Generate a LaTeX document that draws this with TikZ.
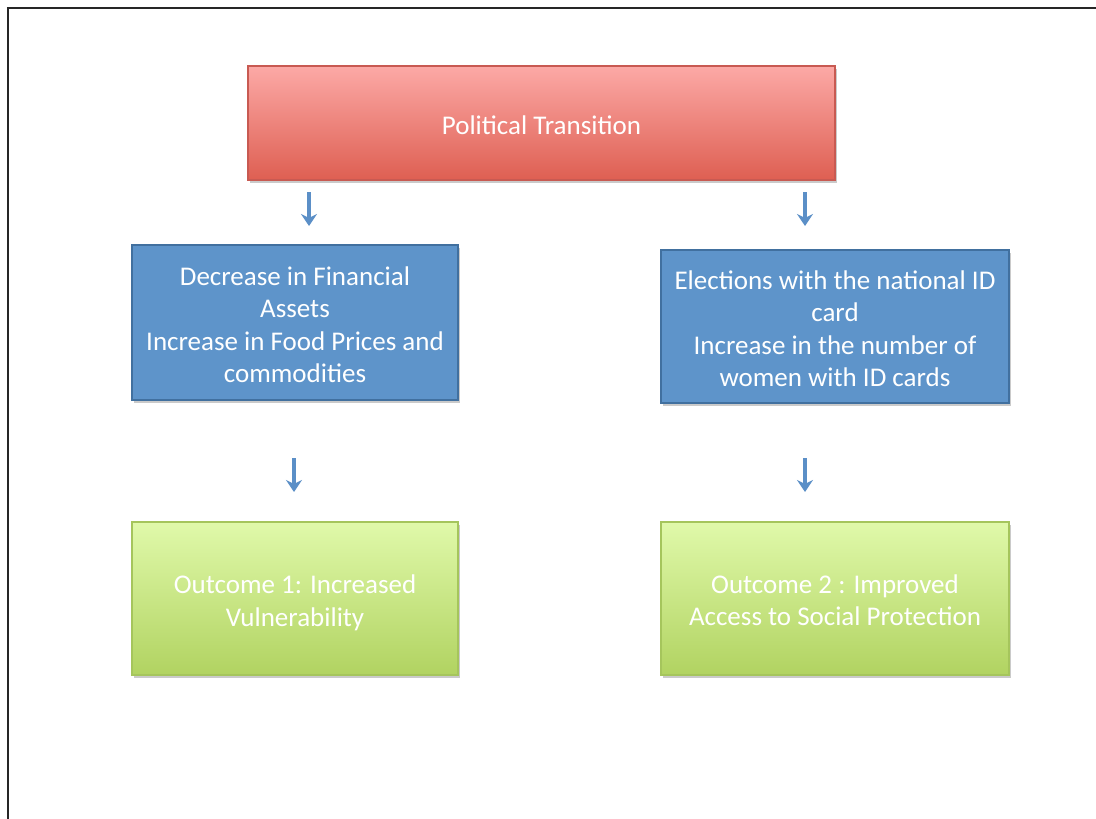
\documentclass[tikz,border=0pt]{standalone}
\usepackage{fontspec}
\setmainfont{Carlito}
\usetikzlibrary{shadows,arrows.meta}
\definecolor{redtop}{HTML}{FCA9A6}
\definecolor{redbot}{HTML}{DE5F52}
\definecolor{redline}{HTML}{C85A52}
\definecolor{bluefill}{HTML}{5E94CA}
\definecolor{blueline}{HTML}{41709F}
\definecolor{greentop}{HTML}{E0F9AA}
\definecolor{greenbot}{HTML}{B1D361}
\definecolor{greenline}{HTML}{A5C55C}
\definecolor{arrowblue}{HTML}{5B8FC7}
\tikzset{
  boxbase/.style={rectangle, line width=1.5pt,
    drop shadow={opacity=0.35, shadow xshift=1.5pt, shadow yshift=-2.5pt, fill=black!60}},
  txt/.style={align=center, text=white, font=\fontsize{27}{32.5}\selectfont},
  redbox/.style={boxbase, draw=redline, top color=redtop, bottom color=redbot},
  bluebox/.style={boxbase, draw=blueline, fill=bluefill},
  greenbox/.style={boxbase, draw=greenline, top color=greentop, bottom color=greenbot},
  arr/.style={draw=arrowblue, line width=3.5pt, -{Stealth[length=12pt,width=16pt,inset=4pt]}}
}
\begin{document}
\begin{tikzpicture}[x=1pt,y=-1pt]
\useasboundingbox (0,0) rectangle (1096,819);
\draw[line width=2.5pt, black!85] (8,819) -- (8,8);
\draw[line width=2.5pt, black!85] (6.75,8) -- (1096,8);
\node[redbox, minimum width=587pt, minimum height=114pt] (red) at (541.5,123) {};
\node[txt] (redtxt) at ([yshift=-2pt]red.center) {Political Transition};
\node[bluebox, minimum width=326pt, minimum height=155pt] (bl) at (295,322.5) {};
\node[txt] (bltxt) at ([yshift=-2pt]bl.center)
  {Decrease in Financial\\Assets\\Increase in Food Prices and\\commodities};
\node[bluebox, minimum width=348pt, minimum height=153pt] (br) at (835,326.5) {};
\node[txt] (brtxt) at ([yshift=-2pt]br.center)
  {Elections with the national ID\\card\\Increase in the number of\\women with ID cards};
\node[greenbox, minimum width=326pt, minimum height=153pt] (gl) at (295,598.5) {};
\node[txt] (gltxt) at ([yshift=-4.5pt]gl.center) {Outcome 1: Increased\\Vulnerability};
\node[greenbox, minimum width=348pt, minimum height=153pt] (gr) at (835,598.5) {};
\node[txt] (grtxt) at ([yshift=-1.5pt]gr.center) {Outcome 2 : Improved\\Access to Social Protection};
\coordinate (a1s) at (309,192);
\coordinate (a1e) at (309,226);
\coordinate (a2s) at (805,192);
\coordinate (a2e) at (805,226);
\coordinate (a3s) at (294,458);
\coordinate (a3e) at (294,492);
\coordinate (a4s) at (805,458);
\coordinate (a4e) at (805,492);
\draw[arr] (a1s) -- (a1e);
\draw[arr] (a2s) -- (a2e);
\draw[arr] (a3s) -- (a3e);
\draw[arr] (a4s) -- (a4e);
\end{tikzpicture}
\end{document}
